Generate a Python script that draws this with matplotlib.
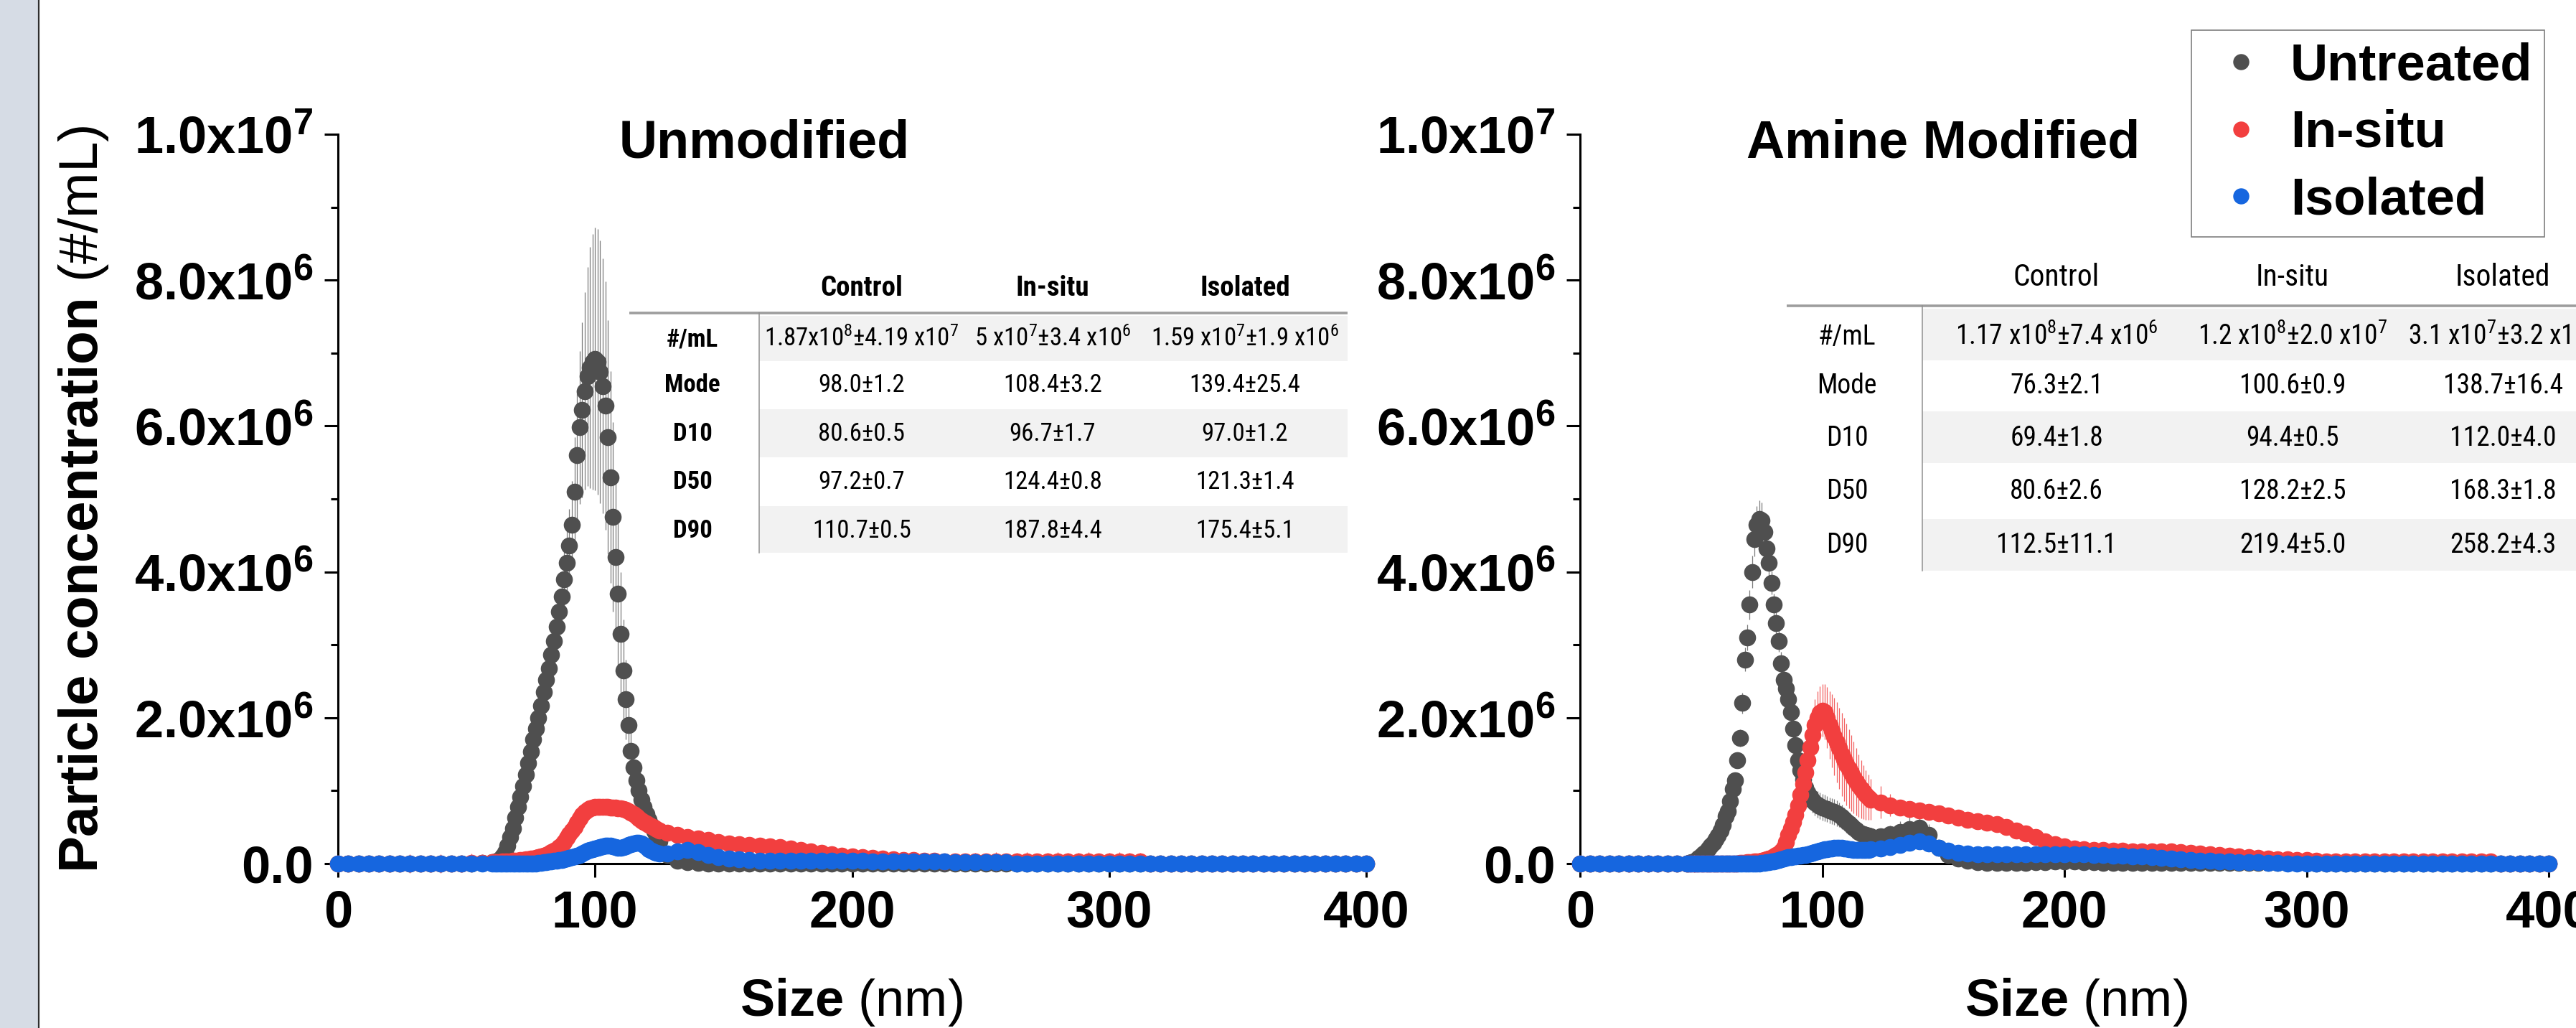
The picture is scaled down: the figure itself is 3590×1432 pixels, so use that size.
import numpy as np
import matplotlib
matplotlib.use('Agg')
import matplotlib.pyplot as plt
from matplotlib import font_manager as fm
from matplotlib.patches import Rectangle
from matplotlib.ticker import MultipleLocator

# ======================= DATA =======================
series_labels = ['Untreated', 'In-situ', 'Isolated']
panel_titles = ['Unmodified', 'Amine Modified']
xticks = [0, 100, 200, 300, 400]
xtick_labels = ['0', '100', '200', '300', '400']
yticks = [0, 2e6, 4e6, 6e6, 8e6, 1e7]
ytick_labels = ['0.0', r'2.0x10$^{\mathbf{6}}$', r'4.0x10$^{\mathbf{6}}$',
                r'6.0x10$^{\mathbf{6}}$', r'8.0x10$^{\mathbf{6}}$', r'1.0x10$^{\mathbf{7}}$']
x_label = r'$\mathbf{Size}$ (nm)'
y_label = r'$\mathbf{Particle\ concentration}$ (#/mL)'

# size bins (nm): coarse / fine / coarse segments
size_unmod = np.concatenate([np.arange(0, 61, 4), np.arange(61, 126), np.arange(128, 401, 4)])
size_amine = np.concatenate([np.arange(0, 45, 4), np.arange(45, 121), np.arange(124, 401, 4)])
SEG_UNMOD = (16, 65, 69)
SEG_AMINE = (12, 76, 70)

# concentrations in units of 1e6 particles/mL (segments separated by |)
grey_unmod = """0 0 0 0 0 0 0 0 0 0 0 0 0 0 0.01 0.02 |
0.02 0.04 0.06 0.10 0.16 0.25 0.36 0.48 0.63 0.78
0.92 1.06 1.22 1.38 1.54 1.70 1.85 2.00 2.17 2.35
2.52 2.68 2.86 3.05 3.25 3.45 3.66 3.90 4.12 4.36
4.65 5.10 5.60 5.98 6.22 6.48 6.68 6.80 6.88 6.92
6.88 6.74 6.55 6.28 5.85 5.30 4.75 4.20 3.70 3.15
2.65 2.25 1.90 1.55 1.32 1.14 1.00 0.88 0.78 0.68
0.60 0.52 0.44 0.37 0.31 |
0.12 0.04 0.02 0.01 0 0 0 0 0 0
0 0 0 0 0 0 0 0 0 0
0 0 0 0 0 0 0 0 0 0
0 0 0 0 0 0 0 0 0 0
0 0 0 0 0 0 0 0 0 0
0 0 0 0 0 0 0 0 0 0
0 0 0 0 0 0 0 0 0"""
grey_unmod_err = """0 0 0 0 0 0 0 0 0 0 0 0 0 0 0.01 0.01 |
0.01 0.02 0.02 0.03 0.04 0.05 0.06 0.07 0.08 0.09
0.10 0.10 0.12 0.13 0.14 0.15 0.16 0.17 0.18 0.20
0.22 0.24 0.26 0.28 0.30 0.32 0.35 0.40 0.45 0.50
0.60 0.75 0.90 1.05 1.20 1.35 1.50 1.65 1.75 1.80
1.82 1.80 1.75 1.70 1.60 1.45 1.30 1.15 1.00 0.85
0.70 0.55 0.45 0.38 0.30 0.25 0.20 0.17 0.14 0.12
0.10 0.08 0.07 0.06 0.05 |
0.04 0.02 0.01 0.01 0 0 0 0 0 0
0 0 0 0 0 0 0 0 0 0
0 0 0 0 0 0 0 0 0 0
0 0 0 0 0 0 0 0 0 0
0 0 0 0 0 0 0 0 0 0
0 0 0 0 0 0 0 0 0 0
0 0 0 0 0 0 0 0 0"""
red_unmod = """0 0 0 0 0 0 0 0 0 0 0 0 0 0.01 0.01 0.02 |
0.02 0.02 0.02 0.03 0.03 0.03 0.03 0.04 0.04 0.04
0.05 0.05 0.06 0.06 0.07 0.07 0.08 0.09 0.10 0.11
0.12 0.14 0.16 0.18 0.20 0.23 0.26 0.30 0.35 0.40
0.45 0.50 0.56 0.62 0.67 0.71 0.74 0.76 0.77 0.78
0.78 0.78 0.78 0.78 0.78 0.77 0.77 0.77 0.76 0.76
0.75 0.74 0.72 0.70 0.68 0.65 0.62 0.59 0.57 0.55
0.53 0.51 0.49 0.47 0.45 |
0.42 0.39 0.36 0.34 0.32 0.30 0.28 0.27 0.26 0.25
0.24 0.23 0.21 0.19 0.17 0.15 0.13 0.11 0.10 0.09
0.08 0.07 0.06 0.05 0.05 0.04 0.04 0.03 0.03 0.03
0.03 0.03 0.03 0.03 0.03 0.03 0.03 0.03 0.03 0.03
0.03 0.03 0.03 0.03 0.03 0.03 0.03 0 0 0
0 0 0 0 0 0 0 0 0 0
0 0 0 0 0 0 0 0 0"""
red_unmod_err = """0 0 0 0 0 0.12 0 0.13 0 0.12 0.13 0 0.12 0.13 0.12 0.12 |
0.12 0.10 0.10 0.08 0.06 0.05 0.05 0.05 0.05 0.05
0.05 0.05 0.05 0.05 0.05 0.05 0.05 0.05 0.05 0.05
0.06 0.06 0.06 0.06 0.06 0.06 0.06 0.06 0.06 0.06
0.06 0.06 0.06 0.06 0.06 0.06 0.06 0.06 0.06 0.06
0.06 0.06 0.06 0.06 0.06 0.06 0.06 0.06 0.06 0.06
0.06 0.06 0.06 0.06 0.06 0.06 0.06 0.06 0.06 0.06
0.06 0.06 0.06 0.06 0.06 |
0.05 0.05 0.05 0.05 0.05 0.05 0.05 0.05 0.05 0.05
0.05 0.05 0.05 0.05 0.05 0.05 0.05 0.05 0.05 0.05
0.04 0.04 0.04 0.04 0.04 0.04 0.04 0.04 0.04 0.04
0.12 0.04 0.13 0.04 0.12 0.13 0.04 0.12 0.13 0.12
0.12 0.13 0.04 0.12 0.13 0.12 0.12 0 0 0
0 0 0 0 0 0 0 0 0 0
0 0 0 0 0 0 0 0 0"""
blue_unmod = """0 0 0 0 0 0 0 0 0 0 0 0 0 0 0 0 |
0 0 0 0 0 0 0 0 0 0
0 0 0 0 0 0 0 0.01 0.01 0.02
0.02 0.03 0.03 0.04 0.04 0.05 0.05 0.06 0.07 0.08
0.09 0.10 0.11 0.12 0.14 0.16 0.18 0.19 0.20 0.21
0.22 0.23 0.24 0.25 0.25 0.25 0.24 0.23 0.22 0.22
0.23 0.24 0.26 0.27 0.28 0.29 0.29 0.28 0.26 0.23
0.20 0.18 0.16 0.15 0.14 |
0.14 0.17 0.19 0.16 0.12 0.09 0.07 0.06 0.05 0.04
0.04 0.04 0.04 0.04 0.04 0.04 0.04 0.04 0.04 0.04
0.03 0.03 0.03 0.03 0.03 0.03 0.03 0.03 0.02 0.02
0.02 0.02 0.02 0.02 0 0 0 0 0 0
0 0 0 0 0 0 0 0 0 0
0 0 0 0 0 0 0 0 0 0
0 0 0 0 0 0 0 0 0"""
blue_unmod_err = """0 0 0 0 0 0 0 0 0 0 0 0 0 0 0 0 |
0 0 0 0 0 0 0 0 0 0
0 0 0 0 0 0 0 0 0 0
0.01 0.01 0.01 0.01 0.01 0.01 0.01 0.01 0.01 0.01
0.02 0.02 0.02 0.02 0.03 0.03 0.03 0.03 0.03 0.03
0.03 0.03 0.03 0.03 0.03 0.03 0.03 0.03 0.03 0.03
0.03 0.03 0.03 0.03 0.03 0.03 0.03 0.03 0.03 0.03
0.03 0.03 0.03 0.03 0.03 |
0.03 0.03 0.03 0.03 0.03 0.02 0.02 0.02 0.02 0.02
0.02 0.02 0.02 0.02 0.02 0.02 0.02 0.02 0.02 0.02
0.01 0.01 0.01 0.01 0.01 0.01 0.01 0.01 0.01 0.01
0 0 0 0 0 0 0 0 0 0
0 0 0 0 0 0 0 0 0 0
0 0 0 0 0 0 0 0 0 0
0 0 0 0 0 0 0 0 0"""

grey_amine = """0 0 0 0 0 0 0 0 0 0 0 0 |
0.01 0.02 0.03 0.05 0.08 0.11 0.14 0.17 0.21 0.25
0.29 0.33 0.38 0.45 0.53 0.65 0.72 0.86 1.02 1.14
1.42 1.72 2.20 2.80 3.10 3.55 4.00 4.45 4.65 4.72
4.70 4.55 4.32 4.12 3.85 3.55 3.30 3.05 2.75 2.52
2.40 2.25 2.08 1.85 1.62 1.42 1.28 1.15 1.04 0.97
0.92 0.87 0.84 0.81 0.79 0.77 0.76 0.75 0.73 0.72
0.71 0.69 0.67 0.64 0.61 0.58 0.55 0.52 0.49 0.46
0.43 0.41 0.40 0.39 0.38 0.37 |
0.37 0.40 0.43 0.47 0.49 0.39 0.22 0.12 0.07 0.04
0.02 0.01 0.01 0.01 0.01 0.01 0.02 0.02 0.03 0.03
0.03 0.02 0.02 0.01 0.01 0.01 0.01 0.01 0.01 0.01
0.01 0.01 0.01 0.01 0.01 0.01 0.01 0.01 0.01 0.01
0.01 0.01 0.01 0.01 0.01 0 0 0 0 0
0 0 0 0 0 0 0 0 0 0
0 0 0 0 0 0 0 0 0 0"""
grey_amine_err = """0 0 0 0 0 0 0 0 0 0 0 0 |
0.01 0.01 0.02 0.02 0.02 0.03 0.03 0.03 0.04 0.04
0.04 0.05 0.05 0.06 0.06 0.07 0.08 0.08 0.09 0.10
0.11 0.12 0.14 0.16 0.18 0.20 0.22 0.24 0.25 0.26
0.25 0.22 0.20 0.18 0.16 0.15 0.15 0.15 0.15 0.15
0.15 0.16 0.17 0.18 0.18 0.18 0.18 0.17 0.16 0.16
0.16 0.17 0.18 0.18 0.18 0.18 0.18 0.18 0.18 0.18
0.18 0.18 0.17 0.17 0.16 0.16 0.15 0.15 0.14 0.14
0.13 0.12 0.12 0.11 0.11 0.10 |
0.10 0.12 0.15 0.18 0.18 0.15 0.10 0.06 0.04 0.03
0.02 0.02 0.02 0.02 0.02 0.02 0.02 0.02 0.02 0.02
0.02 0.02 0.02 0.02 0.02 0.02 0.02 0.02 0.02 0.02
0.01 0.01 0.01 0.01 0.01 0.01 0.01 0.01 0.01 0.01
0.01 0.01 0.01 0.01 0.01 0 0 0 0 0
0 0 0 0 0 0 0 0 0 0
0 0 0 0 0 0 0 0 0 0"""
red_amine = """0 0 0 0 0 0 0 0 0 0 0 0 |
0 0 0 0 0 0 0 0 0 0
0 0 0 0 0 0 0 0 0 0
0 0.01 0.01 0.01 0.02 0.02 0.02 0.03 0.03 0.03
0.04 0.05 0.06 0.07 0.08 0.10 0.12 0.14 0.17 0.22
0.30 0.39 0.48 0.57 0.67 0.80 0.94 1.09 1.25 1.42
1.59 1.76 1.90 2.00 2.07 2.10 2.08 2.00 1.90 1.82
1.74 1.66 1.58 1.50 1.43 1.36 1.30 1.24 1.18 1.12
1.07 1.02 0.98 0.94 0.91 0.88 |
0.84 0.80 0.77 0.75 0.73 0.71 0.69 0.66 0.63 0.60
0.58 0.56 0.54 0.50 0.45 0.41 0.36 0.31 0.27 0.24
0.21 0.20 0.19 0.19 0.18 0.18 0.17 0.17 0.17 0.17
0.17 0.16 0.15 0.14 0.13 0.12 0.11 0.10 0.09 0.08
0.07 0.06 0.06 0.05 0.05 0.04 0.03 0.03 0.03 0.03
0.03 0.03 0.03 0.03 0.03 0.03 0.03 0.03 0.03 0.03
0.03 0.03 0.03 0.03 0 0 0 0 0 0"""
red_amine_err = """0 0 0 0 0 0.12 0 0.12 0 0 0 0 |
0 0 0.12 0 0 0 0 0 0 0
0 0 0 0 0 0 0 0 0 0
0.02 0.02 0.02 0.02 0.02 0.02 0.02 0.02 0.02 0.02
0.03 0.03 0.03 0.04 0.04 0.05 0.06 0.07 0.08 0.10
0.12 0.14 0.16 0.18 0.20 0.22 0.24 0.26 0.28 0.30
0.32 0.34 0.35 0.36 0.36 0.36 0.38 0.42 0.46 0.50
0.53 0.55 0.56 0.57 0.57 0.56 0.54 0.52 0.49 0.46
0.43 0.40 0.37 0.34 0.31 0.28 |
0.22 0.15 0.10 0.08 0.07 0.07 0.07 0.07 0.07 0.07
0.06 0.06 0.06 0.06 0.06 0.06 0.06 0.06 0.06 0.06
0.05 0.05 0.05 0.05 0.05 0.05 0.05 0.05 0.05 0.05
0.05 0.05 0.05 0.05 0.05 0.05 0.05 0.05 0.05 0.05
0.04 0.04 0.04 0.04 0.04 0.10 0.04 0.10 0.04 0.10
0.10 0.04 0.10 0.10 0.04 0.10 0.04 0.10 0.10 0.04
0.10 0.04 0.10 0.04 0 0 0 0 0 0"""
blue_amine = """0 0 0 0 0 0 0 0 0 0 0 0 |
0 0 0 0 0 0 0 0 0 0
0 0 0 0 0 0 0 0 0 0
0 0 0 0 0 0 0 0 0 0
0.01 0.01 0.02 0.02 0.03 0.03 0.04 0.05 0.06 0.07
0.08 0.09 0.09 0.10 0.10 0.11 0.11 0.12 0.12 0.13
0.14 0.15 0.16 0.17 0.18 0.19 0.20 0.20 0.21 0.21
0.22 0.22 0.22 0.22 0.21 0.21 0.20 0.20 0.19 0.19
0.19 0.19 0.19 0.19 0.19 0.20 |
0.21 0.23 0.26 0.29 0.31 0.28 0.22 0.18 0.15 0.14
0.13 0.13 0.13 0.13 0.13 0.13 0.13 0.13 0.13 0.13
0.13 0.13 0.12 0.12 0.11 0.11 0.10 0.10 0.09 0.08
0.07 0.06 0.05 0.04 0.04 0.03 0.03 0.02 0.02 0.02
0.01 0.01 0 0 0 0 0 0 0 0
0 0 0 0 0 0 0 0 0 0
0 0 0 0 0 0 0 0 0 0"""
blue_amine_err = """0 0 0 0 0 0 0 0 0 0 0 0 |
0 0 0 0 0 0 0 0 0 0
0 0 0 0 0 0 0 0 0 0
0 0 0 0 0 0 0 0 0 0
0.01 0.01 0.01 0.01 0.01 0.01 0.01 0.01 0.01 0.01
0.01 0.01 0.01 0.01 0.01 0.01 0.01 0.01 0.01 0.01
0.03 0.03 0.03 0.03 0.03 0.03 0.03 0.03 0.03 0.03
0.03 0.03 0.03 0.03 0.03 0.03 0.03 0.03 0.03 0.03
0.03 0.03 0.03 0.03 0.03 0.03 |
0.04 0.04 0.04 0.04 0.04 0.04 0.04 0.04 0.04 0.04
0.03 0.03 0.03 0.03 0.03 0.03 0.03 0.03 0.03 0.03
0.02 0.02 0.02 0.02 0.02 0.02 0.02 0.02 0.02 0.02
0.01 0.01 0.01 0.01 0.01 0.01 0.01 0.01 0.01 0.01
0 0 0 0 0 0 0 0 0 0
0 0 0 0 0 0 0 0 0 0
0 0 0 0 0 0 0 0 0 0"""

# summary tables
table_cols = ['Control', 'In-situ', 'Isolated']
table_rows = ['#/mL', 'Mode', 'D10', 'D50', 'D90']
table_unmod = [
    [r'1.87x10$^{\mathsf{8}}$±4.19 x10$^{\mathsf{7}}$', r'5 x10$^{\mathsf{7}}$±3.4 x10$^{\mathsf{6}}$', r'1.59 x10$^{\mathsf{7}}$±1.9 x10$^{\mathsf{6}}$'],
    ['98.0±1.2', '108.4±3.2', '139.4±25.4'],
    ['80.6±0.5', '96.7±1.7', '97.0±1.2'],
    ['97.2±0.7', '124.4±0.8', '121.3±1.4'],
    ['110.7±0.5', '187.8±4.4', '175.4±5.1'],
]
table_amine = [
    [r'1.17 x10$^{\mathsf{8}}$±7.4 x10$^{\mathsf{6}}$', r'1.2 x10$^{\mathsf{8}}$±2.0 x10$^{\mathsf{7}}$', r'3.1 x10$^{\mathsf{7}}$±3.2 x10$^{\mathsf{6}}$'],
    ['76.3±2.1', '100.6±0.9', '138.7±16.4'],
    ['69.4±1.8', '94.4±0.5', '112.0±4.0'],
    ['80.6±2.6', '128.2±2.5', '168.3±1.8'],
    ['112.5±11.1', '219.4±5.0', '258.2±4.3'],
]

# ======================= STYLE =======================
COLORS = ['#4f4f4f', '#f23f3f', '#1666df']
ECOLORS = ['#7a7a7a', '#f26060', '#3a7be3']


def has_font(name):
    try:
        fm.findfont(fm.FontProperties(family=name), fallback_to_default=False)
        return True
    except Exception:
        return False


NARROW = 'Liberation Sans'
for cand in ['Liberation Sans Narrow', 'Roboto Condensed', 'Open Sans Condensed',
             'Noto Sans Condensed', 'DejaVu Sans Condensed']:
    if has_font(cand):
        NARROW = cand
        break

plt.rcParams['font.family'] = ['Liberation Sans', 'DejaVu Sans']
plt.rcParams['mathtext.fontset'] = 'custom'
plt.rcParams['mathtext.rm'] = 'Liberation Sans'
plt.rcParams['mathtext.it'] = 'Liberation Sans:italic'
plt.rcParams['mathtext.bf'] = 'Liberation Sans:bold'
plt.rcParams['mathtext.sf'] = NARROW


def parse(s, segs, name):
    parts = s.split('|')
    if len(parts) != len(segs):
        raise ValueError(f'{name}: {len(parts)} segments, expected {len(segs)}')
    out = []
    for i, (p, n) in enumerate(zip(parts, segs)):
        v = [float(t) for t in p.split()]
        if len(v) != n:
            raise ValueError(f'{name} seg {i}: {len(v)} values, expected {n}')
        out += v
    return np.array(out) * 1e6


W, H = 3590, 1432
fig = plt.figure(figsize=(W / 100, H / 100), dpi=100, facecolor='white')


def frac_rect(x0, x1, ytop, ybot):
    return [x0 / W, 1 - ybot / H, (x1 - x0) / W, (ybot - ytop) / H]


ax_l = fig.add_axes(frac_rect(471, 1904, 187, 1203))
ax_r = fig.add_axes(frac_rect(2202, 3552, 187, 1203))

panels = [
    (ax_l, size_unmod, SEG_UNMOD, [(grey_unmod, grey_unmod_err), (red_unmod, red_unmod_err), (blue_unmod, blue_unmod_err)]),
    (ax_r, size_amine, SEG_AMINE, [(grey_amine, grey_amine_err), (red_amine, red_amine_err), (blue_amine, blue_amine_err)]),
]

handles = None
for pi, (ax, xs, segs, series) in enumerate(panels):
    hs = []
    for si, (vs, es) in enumerate(series):
        y = parse(vs, segs, f'p{pi}s{si}')
        e = parse(es, segs, f'p{pi}s{si}err')
        cont = ax.errorbar(xs, y, yerr=e, fmt='o', ms=17, mfc=COLORS[si], mec=COLORS[si], mew=0,
                           ecolor=ECOLORS[si], elinewidth=0.9, capsize=4, capthick=0.9,
                           zorder=3 + si, label=series_labels[si])
        cont[0].set_clip_on(False)
        for c in cont[1]:
            c.set_clip_on(False)
        for c in cont[2]:
            c.set_clip_on(False)
        hs.append(cont[0])
    if handles is None:
        handles = hs

    ax.set_xlim(0, 400)
    ax.set_ylim(0, 1e7)
    ax.spines[['top', 'right']].set_visible(False)
    for s in ['left', 'bottom']:
        ax.spines[s].set_linewidth(2.2)
    ax.set_xticks(xticks, xtick_labels)
    ax.set_yticks(yticks, ytick_labels)
    ax.yaxis.set_minor_locator(MultipleLocator(1e6))
    ax.tick_params(axis='both', which='major', length=13.7, width=2.2, direction='out', labelsize=52)
    ax.tick_params(axis='y', which='minor', length=7, width=2.2, direction='out')
    ax.tick_params(axis='x', which='major', pad=12)
    ax.tick_params(axis='y', which='major', pad=11)
    for lab in ax.get_xticklabels() + ax.get_yticklabels():
        lab.set_fontweight('bold')
    ax.set_xlabel(x_label, fontsize=52, fontweight='normal', va='baseline')
    ax.patch.set_alpha(0)

ax_l.xaxis.set_label_coords((1186 - 471) / 1433, -(1415 - 1203) / 1016)
ax_r.xaxis.set_label_coords((2893 - 2202) / 1350, -(1415 - 1203) / 1016)
ax_l.set_ylabel(y_label, fontsize=55, fontweight='normal', va='baseline')
ax_l.yaxis.set_label_coords((136 - 471) / 1433, 0.5)

# overlay in pixel coordinates for titles, tables, frame strip
ov = fig.add_axes([0, 0, 1, 1], zorder=1)
ov.set_xlim(0, W)
ov.set_ylim(H, 0)
ov.axis('off')

ov.add_patch(Rectangle((0, 0), 53, H, facecolor='#d6dce5', edgecolor='none'))
ov.plot([54, 54], [0, H], color='#2e2e2e', lw=1.6, solid_capstyle='butt')

ov.text(1065, 219, panel_titles[0], ha='center', va='baseline', fontsize=53, fontweight='bold')
ov.text(2708, 220, panel_titles[1], ha='center', va='baseline', fontsize=53, fontweight='bold')


def cap_h(fs):
    return 0.716 * fs * 100 / 72


def draw_table(cells, g):
    for (y0, y1) in g['shade']:
        ov.add_patch(Rectangle((g['vline'], y0), g['x1'] - g['vline'], y1 - y0,
                               facecolor='#f2f2f2', edgecolor='none'))
    ov.plot([g['x0'], g['x1']], [g['hline'], g['hline']], color='#9d9d9d', lw=2.6, solid_capstyle='butt')
    ov.plot([g['vline'], g['vline']], [g['hline'], g['ybot']], color='#8f8f8f', lw=1.1)
    fh, fb = g['fs_head'], g['fs_body']
    for cx, name in zip(g['cols'], table_cols):
        ov.text(cx, g['head_y'] + cap_h(fh) / 2, name, ha='center', va='baseline', fontsize=fh,
                family=NARROW, fontweight=g['weight'])
    for ry, rname, row in zip(g['rows'], table_rows, cells):
        base = ry + cap_h(fb) / 2
        ov.text(g['label_x'], base, rname, ha='center', va='baseline', fontsize=fb,
                family=NARROW, fontweight=g['weight'])
        for cx, val in zip(g['cols'], row):
            ov.text(cx, base, val, ha='center', va='baseline', fontsize=fb, family=NARROW)


draw_table(table_unmod, dict(x0=877, x1=1878, hline=436, vline=1058, ybot=770, label_x=965,
                             cols=[1201, 1467, 1735], head_y=398, rows=[470, 534, 602, 669, 737],
                             shade=[(440, 503), (570, 637), (705, 770)], fs_head=28, fs_body=25,
                             weight='bold'))
draw_table(table_amine, dict(x0=2490, x1=3600, hline=426, vline=2679, ybot=795, label_x=2574,
                             cols=[2866, 3195, 3488], head_y=383, rows=[467, 535, 608, 682, 757],
                             shade=[(430, 502), (573, 645), (723, 795)], fs_head=30, fs_body=27,
                             weight='normal'))

leg = fig.legend(handles, series_labels, loc='upper right', bbox_to_anchor=(3546 / W, 1 - 42 / H),
                 bbox_transform=fig.transFigure, borderaxespad=0, frameon=True, fancybox=False,
                 edgecolor='#7f7f7f', framealpha=1,
                 prop={'family': 'Liberation Sans', 'weight': 'bold', 'size': 52},
                 handlelength=1.45, handletextpad=0.23, borderpad=0.23, labelspacing=0.35,
                 markerscale=0.95)
leg.get_frame().set_linewidth(1.2)
leg.set_zorder(10)

fig.savefig('out.png', dpi=100, facecolor='white')
